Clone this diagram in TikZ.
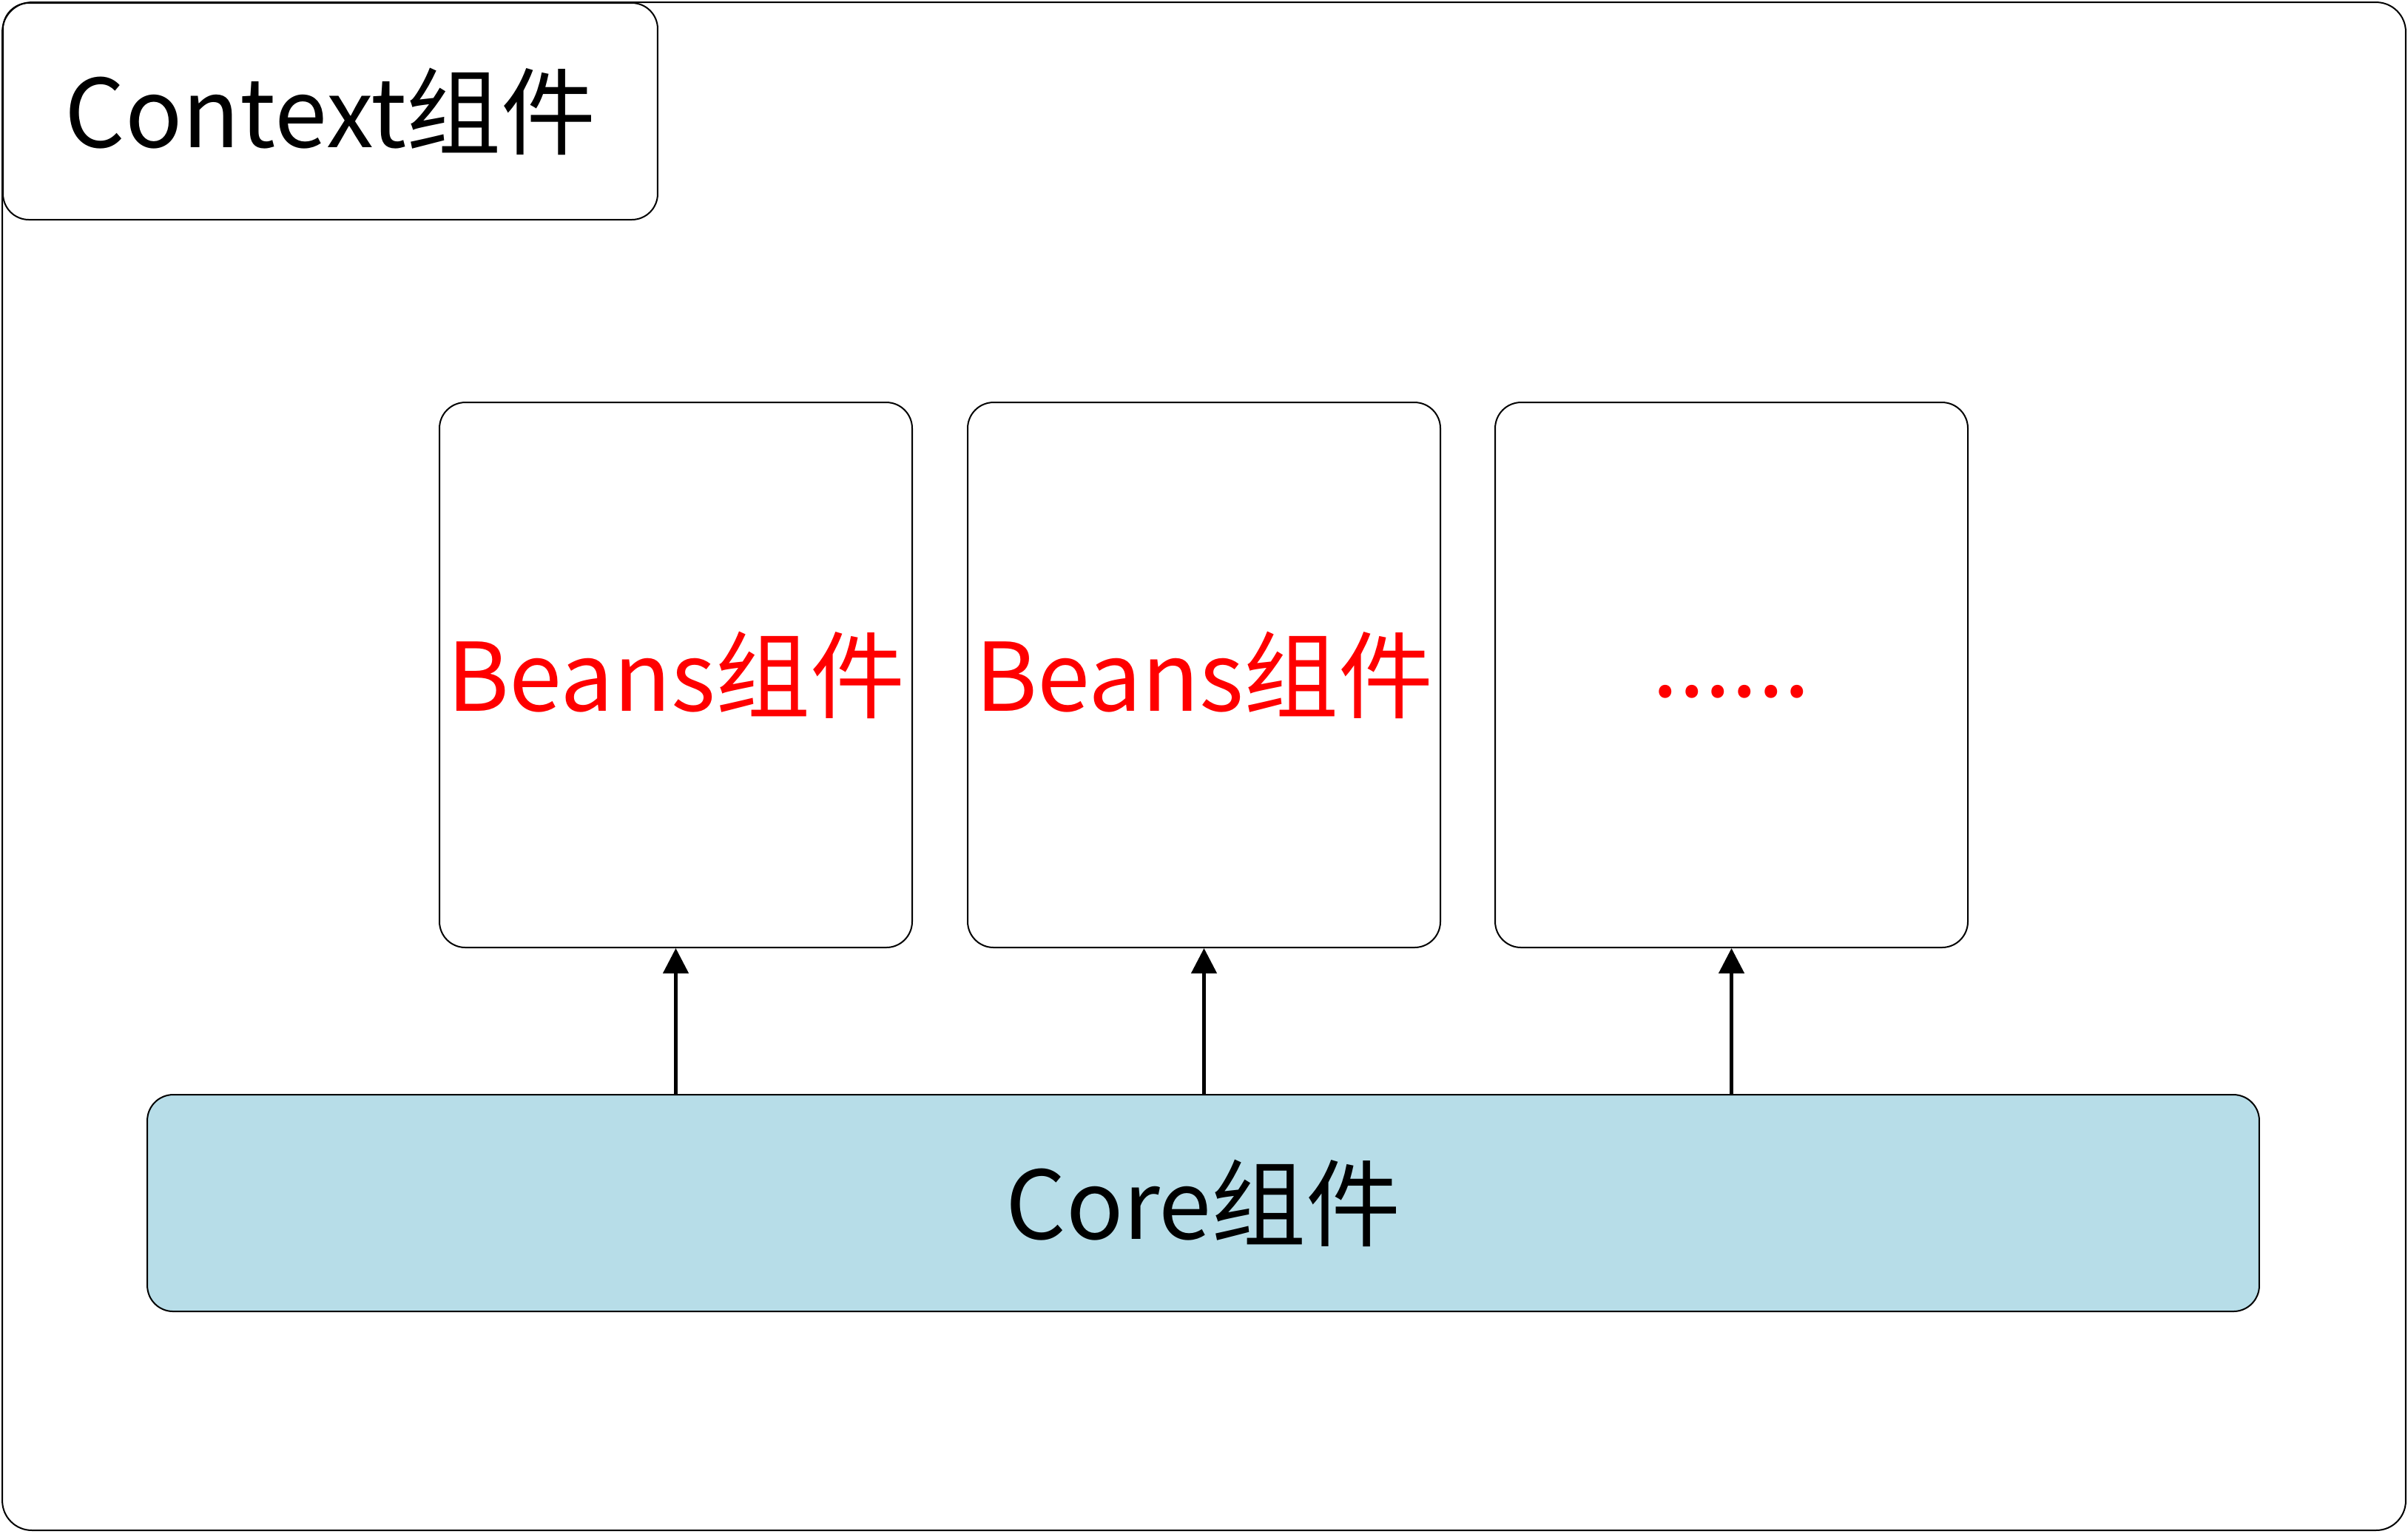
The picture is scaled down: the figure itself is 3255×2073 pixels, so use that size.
\documentclass[tikz,border=0pt]{standalone}
\usepackage{fontspec}
\setmainfont{Noto Sans CJK SC}
\usetikzlibrary{arrows.meta}
\definecolor{corefill}{RGB}{183,221,232}
\definecolor{beansred}{RGB}{255,0,0}
\begin{document}
\begin{tikzpicture}[x=0.1pt,y=0.1pt,yscale=-1,xscale=1,
  box/.style={draw, line width=0.2pt, rounded corners=3.5pt, inner sep=0pt, font=\fontsize{12.8pt}{15pt}\selectfont},
  beansbox/.style={box, minimum width=63.9pt, minimum height=73.7pt, text=beansred},
  uparrow/.style={line width=0.45pt, -{Triangle[length=3.4pt,width=3.4pt]}}]
\useasboundingbox (0,0) rectangle (3255,2073);

% frame
\node[box, rounded corners=4pt, minimum width=324.9pt, minimum height=206.6pt] (frame) at (1627.5,1036) {};
\node[box, minimum width=88.5pt, minimum height=29.3pt] (context) at (446.5,150.5) {Context组件};

\node[beansbox] (beans1) at (913.5,912.5) {Beans组件};
\node[beansbox] (beans2) at (1627.5,912.5) {Beans组件};
\node[beansbox, text height=6pt, text depth=0pt] (more) at (2340.5,912.5) {......};

\node[box, fill=corefill, minimum width=285.5pt, minimum height=29.3pt] (core) at (1626.5,1626.5) {Core组件};

\draw[uparrow] (core.north -| beans1.south) -- (beans1.south);
\draw[uparrow] (core.north -| beans2.south) -- (beans2.south);
\draw[uparrow] (core.north -| more.south) -- (more.south);

\end{tikzpicture}
\end{document}
